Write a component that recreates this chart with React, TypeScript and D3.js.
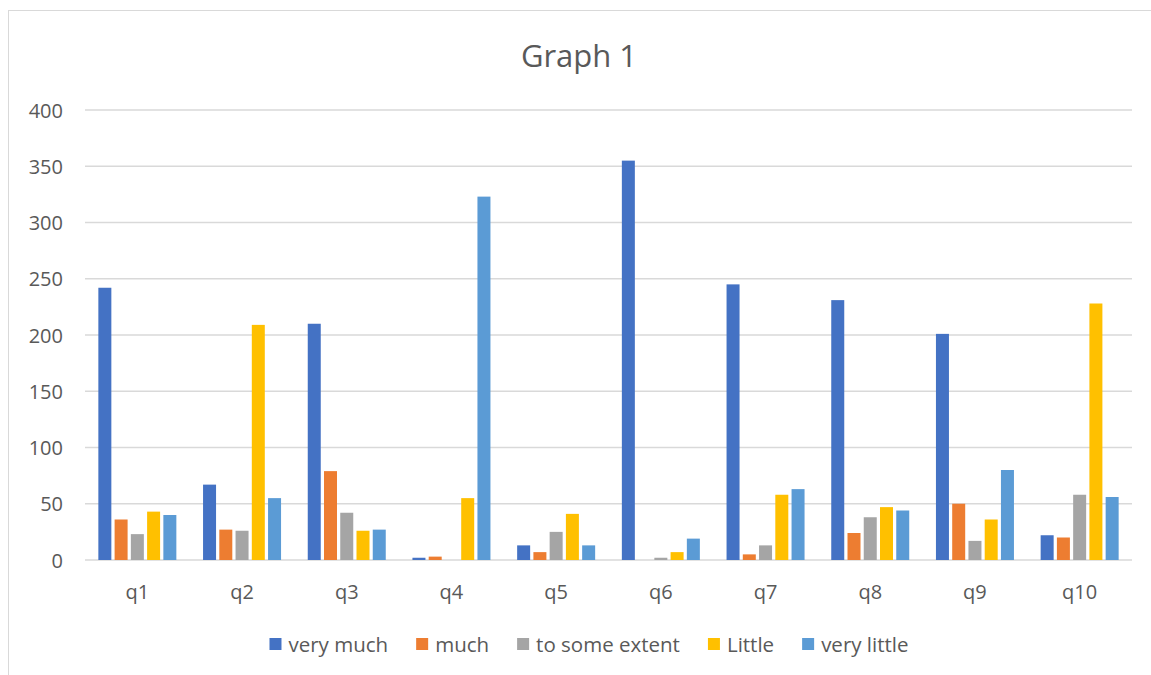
import React, { useRef, useEffect } from 'react';
import * as d3 from 'd3';

const categories = ['q1', 'q2', 'q3', 'q4', 'q5', 'q6', 'q7', 'q8', 'q9', 'q10'];
const seriesNames = ['very much', 'much', 'to some extent', 'Little', 'very little'];
const veryMuch = [242, 67, 210, 2, 13, 355, 245, 231, 201, 22];
const much = [36, 27, 79, 3, 7, 0, 5, 24, 50, 20];
const toSomeExtent = [23, 26, 42, 0, 25, 2, 13, 38, 17, 58];
const little = [43, 209, 26, 55, 41, 7, 58, 47, 36, 228];
const veryLittle = [40, 55, 27, 323, 13, 19, 63, 44, 80, 56];
const yTicks = [0, 50, 100, 150, 200, 250, 300, 350, 400];
const colors = ['#4472C4', '#ED7D31', '#A5A5A5', '#FFC000', '#5B9BD5'];

const W = 1151;
const H = 675;
const FONT = '"Open Sans", sans-serif';

const App = () => {
    const ref = useRef<SVGSVGElement>(null);

    useEffect(() => {
        const svg = d3.select(ref.current);
        svg.selectAll('*').remove();

        const allSeries = [veryMuch, much, toSomeExtent, little, veryLittle];

        // outer frame
        svg.append('rect')
            .attr('x', 8.5).attr('y', 10.5)
            .attr('width', 1200).attr('height', 700)
            .attr('fill', '#fff').attr('stroke', '#D9D9D9');

        svg.append('text')
            .attr('x', 579).attr('y', 55)
            .attr('text-anchor', 'middle').attr('dominant-baseline', 'central')
            .style('font-family', FONT).style('font-size', '31px')
            .attr('fill', '#595959')
            .text('Graph 1');

        const x = d3.scaleBand().domain(categories).range([85, 1132]);
        const inner = d3.scaleBand().domain(seriesNames).range([0, 78]).paddingInner(0.2);
        const y = d3.scaleLinear().domain([0, 400]).range([560, 110]);

        // gridlines
        svg.append('g').selectAll('line')
            .data(yTicks)
            .enter().append('line')
            .attr('x1', 85).attr('x2', 1132)
            .attr('y1', d => y(d)).attr('y2', d => y(d))
            .attr('stroke', '#D9D9D9').attr('stroke-width', 1.5);

        // y labels
        svg.append('g').selectAll('text')
            .data(yTicks)
            .enter().append('text')
            .attr('x', 63).attr('y', d => y(d))
            .attr('text-anchor', 'end').attr('dominant-baseline', 'central')
            .style('font-family', FONT).style('font-size', '20px')
            .attr('fill', '#595959')
            .text(d => d);

        // bars
        seriesNames.forEach((name, si) => {
            svg.append('g').selectAll('rect')
                .data(allSeries[si])
                .enter().append('rect')
                .attr('x', (d, i) => x(categories[i])! + x.bandwidth() / 2 - 39 + inner(name)!)
                .attr('y', d => y(d))
                .attr('width', inner.bandwidth())
                .attr('height', d => 560 - y(d))
                .attr('fill', colors[si]);
        });

        // category labels
        svg.append('g').selectAll('text')
            .data(categories)
            .enter().append('text')
            .attr('x', d => x(d)! + x.bandwidth() / 2)
            .attr('y', 591)
            .attr('text-anchor', 'middle').attr('dominant-baseline', 'central')
            .style('font-family', FONT).style('font-size', '20px')
            .attr('fill', '#595959')
            .text(d => d);

        // legend, centred
        const legend = svg.append('g');
        let cx = 0;
        seriesNames.forEach((name, si) => {
            const item = legend.append('g').attr('transform', `translate(${cx},0)`);
            item.append('rect')
                .attr('x', 0).attr('y', -6).attr('width', 12).attr('height', 12)
                .attr('fill', colors[si]);
            const t = item.append('text')
                .attr('x', 19).attr('y', 0)
                .attr('dominant-baseline', 'central')
                .style('font-family', FONT).style('font-size', '20.5px')
                .attr('fill', '#595959')
                .text(name);
            const tw = (t.node() as SVGTextElement).getComputedTextLength();
            cx += 19 + tw + 28;
        });
        const total = cx - 28;
        legend.attr('transform', `translate(${589 - total / 2},644)`);
    }, []);

    return (
        <svg ref={ref} width={W} height={H}
            style={{ position: 'absolute', left: 0, top: 0, background: '#fff' }} />
    );
};

export default App;
